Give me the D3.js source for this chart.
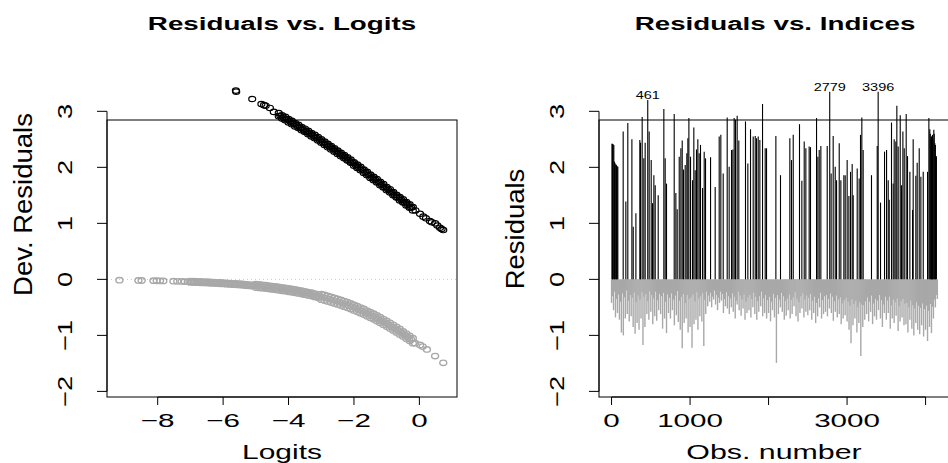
<!DOCTYPE html>
<html>
<head>
<meta charset="utf-8">
<script src="https://cdn.jsdelivr.net/npm/d3@7"></script>
<style>
  body { margin: 0; background: #fff; }
  svg { display: block; }
  text { font-family: "Liberation Sans", Arial, Helvetica, sans-serif; fill: #000; }
</style>
</head>
<body>
<div id="chart"></div>
<script>
// ---- Left panel: deviance residuals vs. logits ----
// dense black band (y = 1 cases), tracks read off the band edges and its middle
const blackLogits = [-4.3, -4.2, -4.1, -4.0, -3.9, -3.8, -3.7, -3.6, -3.5, -3.4, -3.3, -3.2, -3.1, -3.0,
  -2.9, -2.8, -2.7, -2.6, -2.5, -2.4, -2.3, -2.2, -2.1, -2.0, -1.9, -1.8, -1.7, -1.6, -1.5, -1.4,
  -1.3, -1.2, -1.1, -1.0, -0.9, -0.8, -0.7, -0.6, -0.5, -0.4, -0.3, -0.2];
const blackUpper = [2.97, 2.93, 2.90, 2.86, 2.83, 2.79, 2.76, 2.72, 2.69, 2.65, 2.61, 2.58, 2.54, 2.50,
  2.46, 2.42, 2.38, 2.34, 2.30, 2.26, 2.22, 2.18, 2.14, 2.09, 2.05, 2.01, 1.96, 1.92, 1.87, 1.83,
  1.79, 1.74, 1.70, 1.65, 1.61, 1.56, 1.51, 1.47, 1.43, 1.38, 1.34, 1.29];
const blackLower = [2.91, 2.87, 2.84, 2.80, 2.77, 2.73, 2.70, 2.66, 2.63, 2.59, 2.55, 2.52, 2.48, 2.44,
  2.40, 2.36, 2.32, 2.28, 2.24, 2.20, 2.16, 2.12, 2.08, 2.03, 1.99, 1.95, 1.90, 1.86, 1.81, 1.77,
  1.73, 1.68, 1.64, 1.59, 1.55, 1.50, 1.46, 1.41, 1.37, 1.32, 1.28, 1.23];
const blackMidLogits = [-4.25, -4.15, -4.05, -3.95, -3.85, -3.75, -3.65, -3.55, -3.45, -3.35, -3.25, -3.15,
  -3.05, -2.95, -2.85, -2.75, -2.65, -2.55, -2.45, -2.35, -2.25, -2.15, -2.05, -1.95, -1.85, -1.75,
  -1.65, -1.55, -1.45, -1.35, -1.25, -1.15, -1.05, -0.95, -0.85, -0.75, -0.65, -0.55, -0.45, -0.35, -0.25];
const blackMid = [2.920, 2.886, 2.852, 2.817, 2.782, 2.747, 2.711, 2.675, 2.638, 2.601, 2.564, 2.527,
  2.488, 2.450, 2.411, 2.371, 2.332, 2.291, 2.250, 2.210, 2.168, 2.126, 2.084, 2.041, 1.998, 1.955,
  1.911, 1.867, 1.822, 1.778, 1.733, 1.688, 1.643, 1.598, 1.553, 1.508, 1.463, 1.418, 1.374, 1.329, 1.285];
// isolated black circles at both ends of the band
const blackSingles = [[-5.61, 3.37], [-5.60, 3.35], [-5.11, 3.22], [-4.83, 3.13], [-4.75, 3.11],
  [-4.70, 3.10], [-4.57, 3.06], [-4.45, 2.99], [-0.12, 1.23], [0.02, 1.17], [0.12, 1.12],
  [0.20, 1.09], [0.32, 1.04], [0.38, 1.02], [0.48, 1.00], [0.55, 0.96], [0.63, 0.92],
  [0.68, 0.90], [0.73, 0.88]];

// dense gray band (y = 0 cases)
const grayLogits = [-7.0, -6.9, -6.8, -6.7, -6.6, -6.5, -6.4, -6.3, -6.2, -6.1, -6.0, -5.9, -5.8, -5.7,
  -5.6, -5.5, -5.4, -5.3, -5.2, -5.1, -5.0, -4.9, -4.8, -4.7, -4.6, -4.5, -4.4, -4.3, -4.2, -4.1,
  -4.0, -3.9, -3.8, -3.7, -3.6, -3.5, -3.4, -3.3, -3.2, -3.1, -3.0, -2.9, -2.8, -2.7, -2.6, -2.5,
  -2.4, -2.3, -2.2, -2.1, -2.0, -1.9, -1.8, -1.7, -1.6, -1.5, -1.4, -1.3, -1.2, -1.1, -1.0, -0.9,
  -0.8, -0.7, -0.6, -0.5, -0.4, -0.3, -0.2];
const grayUpper = [-0.031, -0.033, -0.035, -0.038, -0.040, -0.043, -0.046, -0.049, -0.052, -0.055,
  -0.058, -0.062, -0.066, -0.070, -0.074, -0.078, -0.083, -0.088, -0.093, -0.098, -0.086, -0.092,
  -0.098, -0.105, -0.111, -0.119, -0.126, -0.134, -0.143, -0.151, -0.161, -0.170, -0.180, -0.191,
  -0.202, -0.214, -0.226, -0.239, -0.253, -0.267, -0.262, -0.277, -0.294, -0.311, -0.329, -0.347,
  -0.367, -0.387, -0.408, -0.431, -0.454, -0.478, -0.503, -0.529, -0.557, -0.585, -0.614, -0.644,
  -0.676, -0.708, -0.742, -0.776, -0.812, -0.848, -0.885, -0.929, -0.968, -1.008, -1.049];
const grayLower = [-0.055, -0.057, -0.059, -0.062, -0.064, -0.067, -0.070, -0.073, -0.076, -0.079,
  -0.082, -0.086, -0.090, -0.094, -0.098, -0.102, -0.107, -0.112, -0.117, -0.122, -0.146, -0.152,
  -0.158, -0.165, -0.171, -0.179, -0.186, -0.194, -0.203, -0.211, -0.221, -0.230, -0.240, -0.251,
  -0.262, -0.274, -0.286, -0.299, -0.313, -0.327, -0.362, -0.377, -0.394, -0.411, -0.429, -0.447,
  -0.467, -0.487, -0.508, -0.531, -0.554, -0.578, -0.603, -0.629, -0.657, -0.685, -0.714, -0.744,
  -0.776, -0.808, -0.842, -0.876, -0.912, -0.948, -0.985, -1.019, -1.058, -1.098, -1.139];
const grayMidLogits = [-6.95, -6.85, -6.75, -6.65, -6.55, -6.45, -6.35, -6.25, -6.15, -6.05, -5.95, -5.85,
  -5.75, -5.65, -5.55, -5.45, -5.35, -5.25, -5.15, -5.05, -4.95, -4.85, -4.75, -4.65, -4.55, -4.45,
  -4.35, -4.25, -4.15, -4.05, -3.95, -3.85, -3.75, -3.65, -3.55, -3.45, -3.35, -3.25, -3.15, -3.05,
  -2.95, -2.85, -2.75, -2.65, -2.55, -2.45, -2.35, -2.25, -2.15, -2.05, -1.95, -1.85, -1.75, -1.65,
  -1.55, -1.45, -1.35, -1.25, -1.15, -1.05, -0.95, -0.85, -0.75, -0.65, -0.55, -0.45, -0.35, -0.25];
const grayMid = [-0.044, -0.046, -0.049, -0.051, -0.054, -0.056, -0.059, -0.062, -0.065, -0.069, -0.072,
  -0.076, -0.080, -0.084, -0.088, -0.093, -0.097, -0.102, -0.108, -0.113, -0.119, -0.125, -0.131,
  -0.138, -0.145, -0.152, -0.160, -0.168, -0.177, -0.186, -0.195, -0.205, -0.216, -0.227, -0.238,
  -0.250, -0.263, -0.276, -0.290, -0.304, -0.320, -0.336, -0.352, -0.370, -0.388, -0.407, -0.427,
  -0.448, -0.469, -0.492, -0.516, -0.540, -0.566, -0.593, -0.621, -0.650, -0.679, -0.710, -0.742,
  -0.775, -0.809, -0.844, -0.880, -0.917, -0.955, -0.993, -1.033, -1.074];
const graySingles = [[-9.17, -0.015], [-8.59, -0.019], [-8.49, -0.020], [-8.13, -0.024], [-8.03, -0.025],
  [-7.93, -0.026], [-7.83, -0.028], [-7.52, -0.033], [-7.40, -0.035], [-7.27, -0.037], [-7.17, -0.039],
  [-7.08, -0.041], [-0.13, -1.14], [0.02, -1.17], [0.10, -1.20], [0.23, -1.25], [0.48, -1.37], [0.73, -1.49]];

// ---- Right panel: residuals vs. observation index ----
const posObs = [5, 12, 20, 29, 38, 46, 55, 63, 72, 80, 148, 182, 207, 259, 276, 310, 360, 369, 390, 411,
  428, 461, 479, 505, 522, 539, 556, 594, 666, 683, 700, 798, 819, 836, 862, 883, 900, 917, 938, 959,
  972, 985, 1006, 1031, 1048, 1065, 1082, 1099, 1116, 1133, 1159, 1180, 1197, 1261, 1320, 1371, 1392,
  1422, 1473, 1498, 1528, 1545, 1562, 1579, 1600, 1621, 1706, 1736, 1770, 1804, 1830, 1847, 1868, 1889,
  1923, 1957, 1974, 2093, 2152, 2271, 2292, 2314, 2394, 2424, 2454, 2475, 2517, 2534, 2611, 2628, 2645,
  2666, 2747, 2779, 2797, 2823, 2849, 2866, 2900, 2921, 2959, 2976, 3001, 3023, 3044, 3065, 3078, 3129,
  3154, 3171, 3188, 3205, 3311, 3384, 3396, 3426, 3477, 3503, 3524, 3537, 3566, 3587, 3600, 3621, 3634,
  3651, 3677, 3694, 3711, 3728, 3753, 3770, 3800, 3834, 3842, 3876, 3893, 3919, 3940, 3970, 4025, 4042,
  4054, 4060, 4068, 4076, 4082, 4088, 4095, 4105, 4110, 4118, 4125, 4131, 4138];
const posResid = [2.42, 2.42, 2.41, 2.40, 2.10, 2.07, 2.05, 2.04, 2.02, 2.01, 2.64, 1.39, 2.79, 2.50, 0.94,
  1.18, 2.49, 2.44, 2.90, 2.16, 2.44, 3.20, 2.64, 2.13, 1.36, 1.86, 1.68, 1.50, 3.04, 2.16, 1.71, 2.95,
  1.54, 1.25, 2.19, 2.34, 2.48, 1.96, 2.04, 2.25, 2.52, 2.88, 2.19, 1.77, 2.71, 1.95, 2.32, 2.50, 2.25,
  2.40, 1.63, 2.28, 2.16, 2.18, 1.65, 2.55, 2.58, 1.89, 2.89, 2.01, 2.31, 2.32, 2.88, 2.85, 2.92, 2.48,
  2.82, 2.07, 2.68, 2.55, 2.56, 2.52, 2.55, 2.49, 3.13, 2.34, 2.34, 2.56, 1.86, 2.52, 2.13, 2.58, 2.77,
  1.76, 2.46, 2.34, 2.37, 2.36, 2.88, 2.19, 2.31, 2.38, 2.38, 3.35, 1.89, 2.56, 2.01, 1.77, 2.43, 1.77,
  1.86, 1.86, 2.13, 1.49, 1.92, 2.06, 1.50, 1.98, 1.80, 2.58, 2.89, 2.31, 1.86, 2.38, 3.35, 1.37, 2.28,
  2.31, 1.77, 1.42, 2.80, 1.71, 2.50, 2.46, 3.10, 2.37, 2.93, 1.68, 2.64, 2.34, 2.95, 2.20, 1.92, 1.24,
  2.50, 1.85, 2.08, 2.34, 1.83, 1.92, 1.92, 2.88, 2.68, 2.60, 2.50, 2.55, 2.55, 2.58, 2.50, 2.67, 2.60,
  2.43, 2.40, 2.19, 2.20];
const labelledObs = [461, 2779, 3396];

// negative residuals: deepest value per 25 observations, then a shallower one in between
const negStep = 25;
const negDeep = [
  -0.42, -0.55, -0.68, -0.60, -0.72, -0.95, -1.00, -0.70, -0.62, -0.75,
  -0.66, -0.85, -0.97, -0.78, -0.90, -0.70, -1.17, -0.85, -0.62, -0.72,
  -0.58, -0.80, -0.66, -0.74, -0.55, -0.62, -0.88, -0.70, -0.96, -0.60,
  -0.70, -0.55, -0.82, -0.64, -0.76, -0.90, -1.23, -0.78, -0.70, -0.95,
  -0.85, -1.22, -0.80, -0.72, -0.90, -0.66, -0.75, -1.19, -0.62, -0.48,
  -0.40, -0.50, -0.36, -0.45, -0.55, -0.42, -0.38, -0.60, -0.48, -0.52,
  -0.62, -0.50, -0.58, -0.70, -0.45, -0.55, -0.65, -0.52, -0.72, -0.60,
  -0.55, -0.68, -0.50, -0.62, -0.72, -0.58, -0.48, -0.66, -0.60, -0.70,
  -0.60, -0.75, -0.55, -0.68, -1.49, -0.62, -0.50, -0.58, -0.72, -0.65,
  -0.55, -0.70, -0.62, -0.48, -0.66, -0.75, -0.60, -0.52, -0.68, -0.58,
  -0.64, -0.55, -0.72, -0.60, -0.78, -0.66, -0.50, -0.70, -0.62, -0.58,
  -0.66, -0.52, -0.60, -0.74, -0.58, -0.68, -0.62, -0.80, -0.70, -0.64,
  -0.75, -0.90, -1.14, -0.82, -0.70, -0.95, -0.78, -1.37, -0.85, -0.72,
  -0.62, -0.75, -0.58, -0.80, -0.66, -0.72, -0.55, -0.70, -0.85, -0.60,
  -0.72, -0.60, -0.88, -0.70, -0.78, -0.65, -0.92, -0.75, -0.68, -0.82,
  -0.80, -0.95, -0.72, -0.88, -1.00, -0.78, -0.90, -0.98, -0.82, -1.02,
  -0.90, -1.10, -0.85, -0.96, -0.70, -0.50, -0.35];
const negShallow = [
  -0.30, -0.22, -0.35, -0.27, -0.40, -0.25, -0.32, -0.20, -0.38, -0.28,
  -0.33, -0.24, -0.41, -0.29, -0.36, -0.23, -0.31, -0.26, -0.39, -0.21,
  -0.28, -0.34, -0.22, -0.37, -0.26, -0.30, -0.24, -0.40, -0.27, -0.33,
  -0.25, -0.36, -0.29, -0.21, -0.38, -0.31, -0.26, -0.42, -0.28, -0.35,
  -0.32, -0.27, -0.39, -0.23, -0.34, -0.30, -0.25, -0.37, -0.22, -0.29,
  -0.24, -0.31, -0.20, -0.28, -0.33, -0.22, -0.26, -0.35, -0.23, -0.30,
  -0.34, -0.25, -0.31, -0.38, -0.22, -0.29, -0.36, -0.27, -0.40, -0.32,
  -0.28, -0.35, -0.24, -0.31, -0.39, -0.30, -0.22, -0.34, -0.28, -0.37,
  -0.31, -0.40, -0.26, -0.33, -0.28, -0.36, -0.24, -0.30, -0.38, -0.34,
  -0.27, -0.37, -0.32, -0.23, -0.35, -0.41, -0.30, -0.25, -0.36, -0.29,
  -0.33, -0.26, -0.38, -0.31, -0.42, -0.34, -0.24, -0.37, -0.30, -0.28,
  -0.35, -0.25, -0.31, -0.39, -0.29, -0.36, -0.32, -0.43, -0.37, -0.33,
  -0.40, -0.47, -0.36, -0.44, -0.38, -0.50, -0.41, -0.45, -0.46, -0.39,
  -0.32, -0.40, -0.29, -0.43, -0.35, -0.38, -0.28, -0.37, -0.45, -0.31,
  -0.38, -0.31, -0.46, -0.36, -0.41, -0.34, -0.48, -0.39, -0.35, -0.43,
  -0.42, -0.50, -0.38, -0.46, -0.52, -0.41, -0.47, -0.51, -0.43, -0.53,
  -0.47, -0.56, -0.44, -0.49, -0.36, -0.28];

// axis ticks and texts
const residTicks = [-2, -1, 0, 1, 2, 3];
const logitTicks = [-8, -6, -4, -2, 0];
const obsTicks = [0, 1000, 2000, 3000, 4000];
const obsTickLabels = ["0", "1000", "", "3000", ""];
const cutoffResid = 2.845;
const titles = ["Residuals vs. Logits", "Residuals vs. Indices"];
const xLabels = ["Logits", "Obs. number"];
const yLabels = ["Dev. Residuals", "Residuals"];

const width = 948, height = 463;
const grayCol = "#a8a8a8";

const svg = d3.select("#chart").append("svg")
  .attr("width", width)
  .attr("height", height);

// both panels share the same vertical scale
const yScale = d3.scaleLinear().domain([-2.1, cutoffResid]).range([397, 120]);
const xLogit = d3.scaleLinear().domain([-9.55, 1.15]).range([107, 457]);
const xObs = d3.scaleLinear().domain([-160, 4320]).range([599, 950.7]);

const fmt = v => (v < 0 ? "\u2212" + Math.abs(v) : String(v));

// text that is wider than the font (the original device stretches glyphs)
function stretchText(g, str, x, y, size, sx, opts) {
  opts = opts || {};
  const rot = opts.rotate ? " rotate(-90)" : "";
  return g.append("text")
    .attr("transform", "translate(" + x + "," + y + ")" + rot + " scale(" + sx + ",1)")
    .attr("text-anchor", opts.anchor || "middle")
    .style("font-size", size + "px")
    .style("font-weight", opts.bold ? "bold" : "normal")
    .text(str);
}

// R-like left axis: line from first to last tick, ticks pointing out, rotated labels
function drawYAxis(xPos, labelX) {
  const g = svg.append("g");
  g.append("line")
    .attr("x1", xPos).attr("x2", xPos)
    .attr("y1", yScale(residTicks[0])).attr("y2", yScale(residTicks[residTicks.length - 1]))
    .attr("stroke", "#000");
  residTicks.forEach(function (t) {
    g.append("line")
      .attr("x1", xPos).attr("x2", xPos - 10)
      .attr("y1", yScale(t)).attr("y2", yScale(t))
      .attr("stroke", "#000");
    stretchText(g, fmt(t), labelX, yScale(t), 21, 1.3, { rotate: true });
  });
}

function drawXAxis(scale, ticks, labels) {
  const g = svg.append("g");
  g.append("line")
    .attr("x1", scale(ticks[0])).attr("x2", scale(ticks[ticks.length - 1]))
    .attr("y1", 397).attr("y2", 397)
    .attr("stroke", "#000");
  ticks.forEach(function (t, i) {
    g.append("line")
      .attr("x1", scale(t)).attr("x2", scale(t))
      .attr("y1", 397).attr("y2", 405)
      .attr("stroke", "#000");
    if (labels[i] !== "") stretchText(g, labels[i], scale(t), 427, 18.5, 1.6);
  });
}

// ================= Left panel =================
const left = svg.append("g");

// dotted reference line at zero
left.append("line")
  .attr("x1", xLogit.range()[0]).attr("x2", xLogit.range()[1])
  .attr("y1", yScale(0)).attr("y2", yScale(0))
  .attr("stroke", "#c8c8c8")
  .attr("stroke-dasharray", "1,3");

const pairs = (xs, ys) => xs.map((x, i) => [x, ys[i]]);
const grayPts = graySingles.slice(0, 12)
  .concat(pairs(grayLogits, grayUpper))
  .concat(pairs(grayMidLogits, grayMid))
  .concat(pairs(grayLogits, grayLower))
  .concat(graySingles.slice(12));
const blackPts = blackSingles.slice(0, 8)
  .concat(pairs(blackLogits, blackUpper))
  .concat(pairs(blackMidLogits, blackMid))
  .concat(pairs(blackLogits, blackLower))
  .concat(blackSingles.slice(8));

function drawPoints(pts, colour, sw) {
  left.append("g")
    .selectAll("ellipse")
    .data(pts)
    .enter()
    .append("ellipse")
    .attr("cx", d => xLogit(d[0]))
    .attr("cy", d => yScale(d[1]))
    .attr("rx", 3.5)
    .attr("ry", 2.7)
    .attr("fill", "none")
    .attr("stroke", colour)
    .attr("stroke-width", sw);
}
drawPoints(grayPts, grayCol, 1.4);
drawPoints(blackPts, "#000", 1.2);

// box
left.append("rect")
  .attr("x", xLogit.range()[0]).attr("y", yScale(cutoffResid))
  .attr("width", xLogit.range()[1] - xLogit.range()[0])
  .attr("height", yScale(-2.1) - yScale(cutoffResid))
  .attr("fill", "none").attr("stroke", "#000");

drawYAxis(107, 72);
drawXAxis(xLogit, logitTicks, logitTicks.map(fmt));

stretchText(svg, titles[0], 282, 30, 18.5, 1.5, { bold: true });
stretchText(svg, xLabels[0], 282, 459, 20.5, 1.46);
stretchText(svg, yLabels[0], 32, 204.5, 25, 1.1, { rotate: true });

// ================= Right panel =================
const right = svg.append("g");

// negative residuals as gray spikes
right.append("g")
  .selectAll("line")
  .data(negDeep)
  .enter()
  .append("line")
  .attr("x1", (d, i) => xObs(i * negStep)).attr("x2", (d, i) => xObs(i * negStep))
  .attr("y1", yScale(0)).attr("y2", d => yScale(d))
  .attr("stroke", grayCol).attr("stroke-width", 1.4);
right.append("g")
  .selectAll("line")
  .data(negShallow)
  .enter()
  .append("line")
  .attr("x1", (d, i) => xObs(i * negStep + negStep / 2)).attr("x2", (d, i) => xObs(i * negStep + negStep / 2))
  .attr("y1", yScale(0)).attr("y2", d => yScale(d))
  .attr("stroke", grayCol).attr("stroke-width", 1.4);

// positive residuals as black spikes
right.append("g")
  .selectAll("line")
  .data(posObs)
  .enter()
  .append("line")
  .attr("x1", d => xObs(d)).attr("x2", d => xObs(d))
  .attr("y1", yScale(0)).attr("y2", (d, i) => yScale(posResid[i]))
  .attr("stroke", "#000").attr("stroke-width", 1.1);

// labels of the largest residuals
labelledObs.forEach(function (o) {
  const v = posResid[posObs.indexOf(o)];
  stretchText(right, String(o), xObs(o), yScale(v) - 1, 10, 1.45);
});

// frame: left side, bottom and the cut-off line running off the page
right.append("rect")
  .attr("x", xObs.range()[0]).attr("y", yScale(cutoffResid))
  .attr("width", xObs.range()[1] - xObs.range()[0])
  .attr("height", yScale(-2.1) - yScale(cutoffResid))
  .attr("fill", "none").attr("stroke", "#000");

drawYAxis(599, 564);
drawXAxis(xObs, obsTicks, obsTickLabels);

stretchText(svg, titles[1], 775, 30, 18.5, 1.5, { bold: true });
stretchText(svg, xLabels[1], 774, 459, 20.5, 1.48);
stretchText(svg, yLabels[1], 524, 229, 25, 1.1, { rotate: true });
</script>
</body>
</html>
